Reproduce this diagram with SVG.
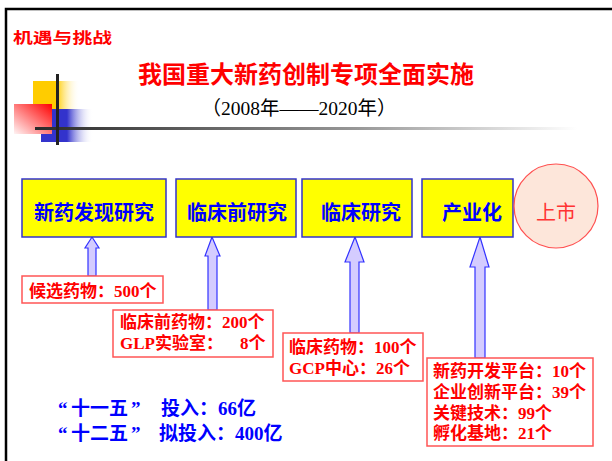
<svg xmlns="http://www.w3.org/2000/svg" width="612" height="461" viewBox="0 0 612 461">
<style>
.stage rect{fill:#ffff00;stroke:#3333cc;stroke-width:1.5}
.stage text{font-family:"Noto Sans CJK SC","Liberation Sans",sans-serif;font-weight:bold;font-size:20px;fill:#0000ff;text-anchor:middle}
.note rect{fill:#ffffff;stroke:#ff5555;stroke-width:1.5}
.note text{font-family:"Liberation Serif","Noto Sans CJK SC",serif;font-weight:bold;font-size:17px;fill:#ff0000;white-space:pre}
.arrow{fill:#d4ccff;stroke:#3333ff;stroke-width:1.2}
.invest{font-family:"Liberation Serif","Noto Sans CJK SC",serif;font-weight:bold;font-size:19px;fill:#0000ff}
</style>
<defs>
<linearGradient id="gLine" x1="0" y1="0" x2="1" y2="0"><stop offset="0" stop-color="#2a2a2a"/><stop offset="0.6" stop-color="#999"/><stop offset="1" stop-color="#fff"/></linearGradient>
<linearGradient id="gYel" x1="0" y1="0" x2="1" y2="0"><stop offset="0" stop-color="#ffcc00"/><stop offset="0.5" stop-color="#ffcc00"/><stop offset="1" stop-color="#fff" stop-opacity="0"/></linearGradient>
<linearGradient id="gBlue" x1="0" y1="0" x2="1" y2="0"><stop offset="0" stop-color="#3333cc"/><stop offset="0.5" stop-color="#3333cc"/><stop offset="1" stop-color="#fff" stop-opacity="0"/></linearGradient>
<linearGradient id="gRed" x1="0" y1="1" x2="1" y2="0"><stop offset="0" stop-color="#fff4f4"/><stop offset="1" stop-color="#ff0000"/></linearGradient>
</defs>
<rect width="612" height="461" fill="#fff"/>
<!-- frame -->
<path d="M6 461 V9 H612" fill="none" stroke="#000" stroke-width="2.5"/>
<!-- decoration -->
<g id="decor">
<rect x="33" y="81" width="47" height="29" fill="url(#gYel)"/>
<rect x="41" y="109" width="52" height="33" fill="url(#gBlue)"/>
<rect x="14" y="104" width="38" height="30" fill="url(#gRed)"/>
<rect x="35" y="127" width="542" height="3" fill="url(#gLine)"/>
<rect x="56" y="74" width="3" height="71" fill="#222"/>
</g>
<text x="13" y="43" font-family="Noto Sans CJK SC,sans-serif" font-size="15" fill="#ff0000" font-weight="bold" textLength="99" lengthAdjust="spacingAndGlyphs">机遇与挑战</text>
<text x="306" y="83" font-family="Noto Sans CJK SC,sans-serif" font-size="24" font-weight="bold" fill="#ff0000" text-anchor="middle">我国重大新药创制专项全面实施</text>
<text x="299" y="115" font-family="Liberation Serif,Noto Sans CJK SC,serif" font-size="19.5" fill="#000" text-anchor="middle">（2008年——2020年）</text>

<g id="connectors">
<path class="arrow" d="M92 237 L99 248 L96 248 L96 276 L88 276 L88 248 L85 248 Z"/>
<path class="arrow" d="M212 237 L220 256 L217 256 L217 310 L208 310 L208 256 L205 256 Z"/>
<path class="arrow" d="M355 237 L364 262 L359 262 L359 333 L350 333 L350 262 L345 262 Z"/>
<path class="arrow" d="M480 237 L489 267 L485 267 L485 358 L475 358 L475 267 L470 267 Z"/>
</g>

<g id="stage1" class="stage"><rect x="22" y="179" width="144" height="58"/><text x="94" y="220">新药发现研究</text></g>
<g id="stage2" class="stage"><rect x="176" y="179" width="120" height="58"/><text x="237" y="220">临床前研究</text></g>
<g id="stage3" class="stage"><rect x="302" y="179" width="110" height="58"/><text x="361" y="220">临床研究</text></g>
<g id="stage4" class="stage"><rect x="422" y="179" width="91" height="58"/><text x="472" y="220">产业化</text></g>
<g id="market"><circle cx="556" cy="206" r="42" fill="#fde6da" stroke="#ff5050" stroke-width="1.2"/><text x="556" y="220" font-family="Noto Sans CJK SC,sans-serif" font-size="20" fill="#ff3333" text-anchor="middle">上市</text></g>

<g id="noteA" class="note"><rect x="22" y="276" width="141" height="27"/><text x="29" y="297">候选药物：500个</text></g>
<g id="noteB" class="note"><rect x="113" y="310" width="160" height="47"/><text x="120" y="328">临床前药物：200个</text><text x="120" y="349">GLP实验室：    8个</text></g>
<g id="noteC" class="note"><rect x="283" y="333" width="140" height="48"/><text x="289" y="353">临床药物：100个</text><text x="289" y="374">GCP中心：26个</text></g>
<g id="noteD" class="note"><rect x="427" y="358" width="166" height="88"/><text x="433" y="377">新药开发平台：10个</text><text x="433" y="398">企业创新平台：39个</text><text x="433" y="419">关键技术：99个</text><text x="433" y="439">孵化基地：21个</text></g>

<g id="investment">
<text class="invest" x="58" y="415">“<tspan x="71">十一五</tspan><tspan x="131">”</tspan> <tspan x="161">投入：66亿</tspan></text>
<text class="invest" x="58" y="440">“<tspan x="71">十二五</tspan><tspan x="131">”</tspan> <tspan x="159">拟投入：400亿</tspan></text>
</g>
</svg>
